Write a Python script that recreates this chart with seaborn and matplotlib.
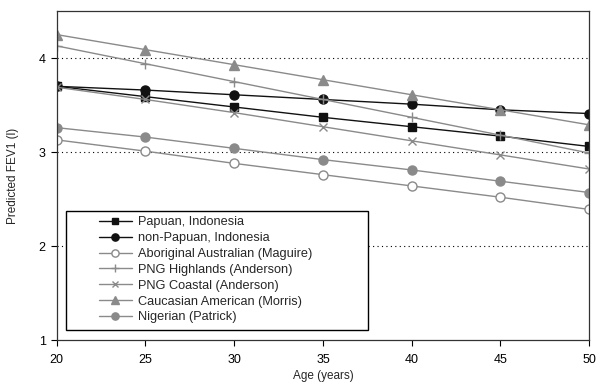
import seaborn as sns
import matplotlib.pyplot as plt
from matplotlib.patches import Rectangle
import numpy as np
import pandas as pd

# 数据
ages = [20, 25, 30, 35, 40, 45, 50]
papuan = [3.70, 3.59, 3.48, 3.37, 3.27, 3.17, 3.06]
non_papuan = [3.70, 3.66, 3.61, 3.56, 3.51, 3.45, 3.41]
aboriginal = [3.13, 3.01, 2.88, 2.76, 2.64, 2.52, 2.39]
png_highlands = [4.13, 3.94, 3.75, 3.56, 3.37, 3.18, 2.99]
png_coastal = [3.69, 3.56, 3.42, 3.27, 3.12, 2.97, 2.82]
caucasian = [4.25, 4.09, 3.93, 3.77, 3.61, 3.45, 3.29]
nigerian = [3.26, 3.16, 3.04, 2.92, 2.81, 2.69, 2.57]

labels = ['Papuan, Indonesia', 'non-Papuan, Indonesia', 'Aboriginal Australian (Maguire)',
          'PNG Highlands (Anderson)', 'PNG Coastal (Anderson)',
          'Caucasian American (Morris)', 'Nigerian (Patrick)']
series = [papuan, non_papuan, aboriginal, png_highlands, png_coastal, caucasian, nigerian]

sns.set_style("white")
plt.rcParams['font.family'] = ['Liberation Sans', 'DejaVu Sans']

black = '#111111'
gray = '#8a8a8a'
styles = [
    dict(marker='s', color=black, mfc=black, ms=6),
    dict(marker='o', color=black, mfc=black, ms=6.5),
    dict(marker='o', color=gray, mfc='white', ms=6.5),
    dict(marker='+', color=gray, mfc=gray, ms=7),
    dict(marker='x', color=gray, mfc=gray, ms=6),
    dict(marker='^', color=gray, mfc=gray, ms=6.5),
    dict(marker='o', color=gray, mfc=gray, ms=6.5),
]

fig = plt.figure(figsize=(5.97, 3.83), dpi=100)
ax = fig.add_axes([0.095, 0.112, 0.892, 0.859])

for y in [2, 3, 4]:
    ax.axhline(y, color='black', linestyle=(0, (1, 3)), linewidth=0.8, zorder=0)

for lab, vals, st in zip(labels, series, styles):
    sns.lineplot(x=ages, y=vals, ax=ax, label=lab, color=st['color'], marker=st['marker'],
                 markersize=st['ms'], markerfacecolor=st['mfc'], markeredgecolor=st['color'],
                 markeredgewidth=1.0, linewidth=1.0)

ax.set_xlim(20, 50)
ax.set_ylim(1, 4.5)
ax.set_xticks([20, 25, 30, 35, 40, 45, 50])
ax.set_yticks([1, 2, 3, 4])
ax.tick_params(axis='both', direction='out', length=4, width=0.8, colors='black',
               labelsize=9, left=True, bottom=True)
ax.tick_params(axis='x', pad=6)
ax.tick_params(axis='y', pad=4)
for s in ax.spines.values():
    s.set_color('#333333')
    s.set_linewidth(0.9)
ax.set_xlabel('Age (years)', fontsize=8.5, labelpad=3)
ax.set_ylabel('Predicted FEV1 (l)', fontsize=8.5, labelpad=14)

# 图例框（白底黑边）
box = Rectangle((0.017, 0.030), 0.568, 0.362, transform=ax.transAxes,
                facecolor='white', edgecolor='black', linewidth=1.0, zorder=4)
ax.add_patch(box)
leg = ax.legend(loc='upper left', bbox_to_anchor=(0.079, 0.376), fontsize=9.2,
                frameon=False, handlelength=2.6, handletextpad=0.5,
                borderpad=0, labelspacing=0.3, borderaxespad=0, markerscale=0.8)
leg.set_zorder(5)

plt.savefig('out.png', dpi=100)
